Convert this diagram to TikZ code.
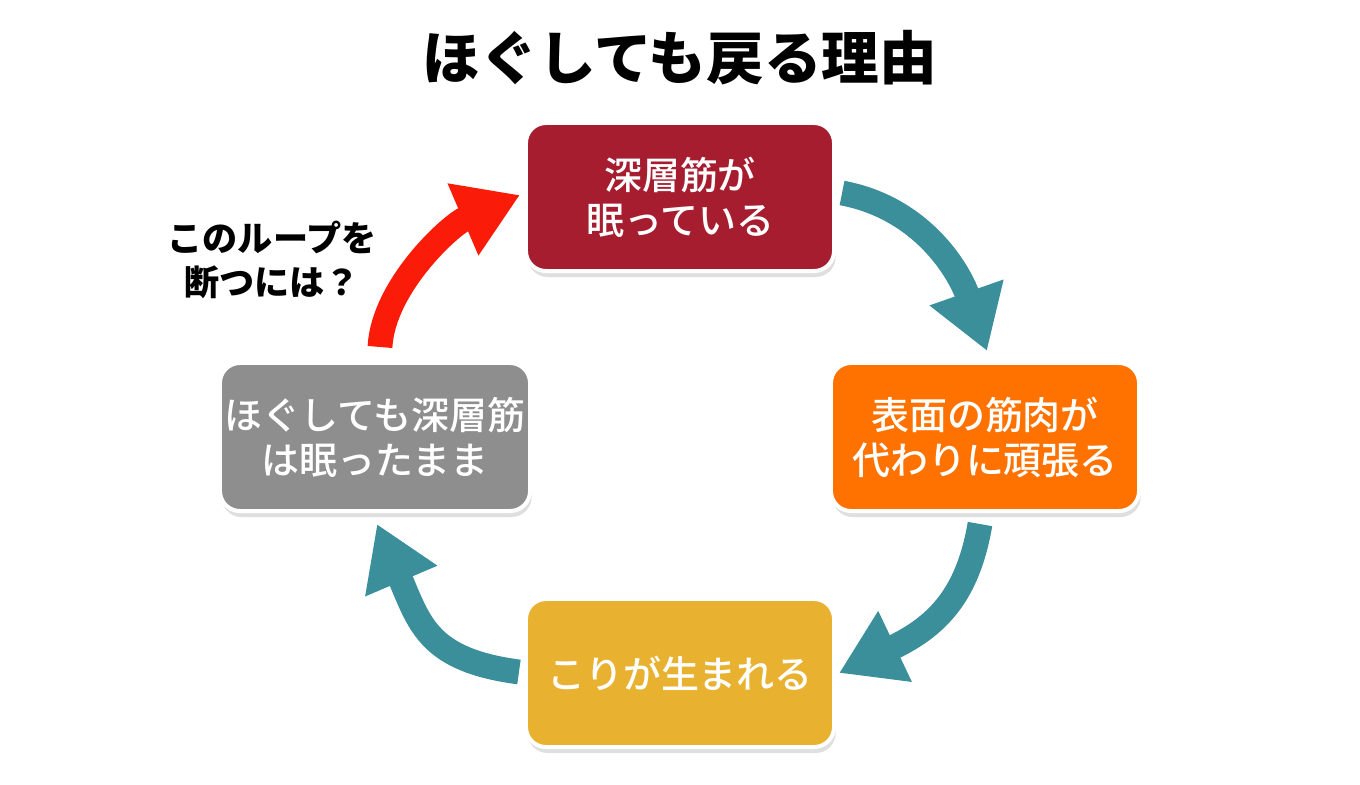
\documentclass[tikz,border=0pt]{standalone}
\usepackage{fontspec}
\setmainfont{Noto Sans CJK JP}
\newfontfamily\boxfont{Noto Sans CJK JP Medium}
\usetikzlibrary{positioning,arrows.meta,shadows}
\definecolor{boxred}{HTML}{A51D2F}
\definecolor{boxorange}{HTML}{FF7200}
\definecolor{boxyellow}{HTML}{E8B230}
\definecolor{boxgray}{HTML}{8E8E8E}
\definecolor{loopteal}{HTML}{3B8F9B}
\definecolor{breakred}{HTML}{FA1C08}

\begin{document}
\begin{tikzpicture}[x=0.025cm,y=-0.025cm,
  box/.style={rounded corners=0.5cm,draw=white,line width=0.1cm,
    minimum width=7.7cm,minimum height=3.7cm,text=white,align=center,
    font=\fontsize{27pt}{32pt}\selectfont\boxfont,
    drop shadow={opacity=0.25,shadow xshift=0.04cm,shadow yshift=-0.15cm}},
  loop/.style={line width=0.62cm,-{Triangle[width=1.85cm,length=1.55cm]}}]
\useasboundingbox (0,0) rectangle (1360,784);
\node[font=\fontsize{41pt}{41pt}\selectfont\bfseries] (title) at (680,58) {ほぐしても戻る理由};

% the four steps of the loop
\node[box,fill=boxred] (deep) at (680,197) {深層筋が\\眠っている};
\node[box,fill=boxorange] (surface) at (985,437) {表面の筋肉が\\代わりに頑張る};
\node[box,fill=boxyellow] (stiff) at (680,673) {こりが生まれる};
\node[box,fill=boxgray] (still) at (375,437) {ほぐしても深層筋\\は眠ったまま};

\node[align=center,font=\fontsize{25pt}{31pt}\selectfont\bfseries] (question) at (272,260) {このループを\\断つには？};

% arrows
\draw[loop,loopteal] ([shift={(6,-4)}]deep.east) .. controls +(80,15) and +(-28,-80) .. ([shift={(2,-10)}]surface.north);
\draw[loop,loopteal] ([shift={(-5,11)}]surface.south) .. controls +(-12,70) and +(99,-47) .. ([shift={(3,0)}]stiff.east);
\draw[loop,loopteal] ([shift={(-5,-1)}]stiff.west) .. controls +(-90,-12) and +(43,101) .. ([shift={(2,11)}]still.south);
\draw[loop,breakred] ([shift={(5,-14)}]still.north) .. controls +(3,-60) and +(-70,30) .. ([shift={(-4,-2)}]deep.west);
\end{tikzpicture}
\end{document}
